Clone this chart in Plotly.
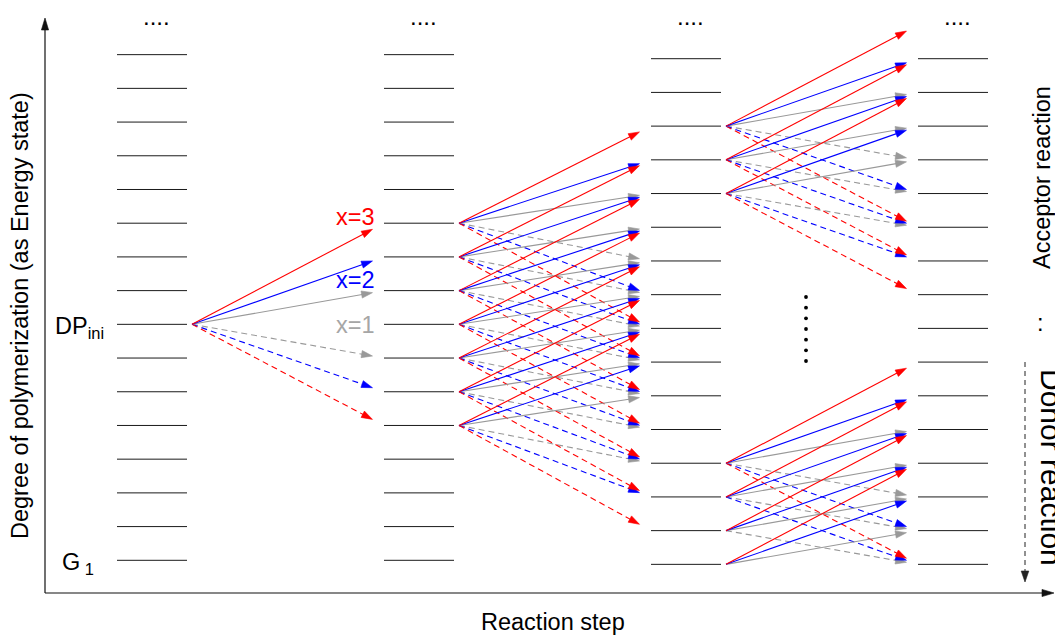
import numpy as np
import plotly.graph_objects as go

# ---------------- diagram data ----------------
N_LEVELS = 16                                  # energy levels drawn in every column
LEVELS = list(range(N_LEVELS))                 # 0 = G1 ... 15
DP_INI = 7                                     # initial degree of polymerization
STEPS = [0, 1, 2, 3]                           # reaction steps (columns)
STEP_LEVEL_SHIFT = [0.0, 0.0, -0.12, -0.12]    # columns 3 and 4 sit slightly lower
TRANSFER_SIZES = [1, 2, 3]                     # x = glucose units transferred
TRANSFER_COLORS = ["#999999", "#0000ff", "#ff0000"]
TRANSFER_LABEL_COLORS = ["#a6a6a6", "#0000ff", "#ff0000"]
TRANSFER_LABELS = ["x=1", "x=2", "x=3"]

# levels from which arrows leave each step
SOURCES_STEP0 = [7]
SOURCES_STEP1 = [4, 5, 6, 7, 8, 9, 10]
SOURCES_STEP2 = [13, 12, 11, 3, 2, 1, 0]
SOURCES = [SOURCES_STEP0, SOURCES_STEP1, SOURCES_STEP2]

Y_TITLE = "Degree of polymerization (as Energy state)"
X_TITLE = "Reaction step"

# ---------------- canvas geometry ----------------
W, H = 1055, 635
X0, DX = 152.0, 267.0          # pixel x of step 0 and pixels per step
Y0, DY = 560.3, 33.71          # pixel y of level 0 and pixels per level
HALF_LINE = 35.0               # half length of a level bar (px)
FONT = "Liberation Sans, Arial, Helvetica, sans-serif"
FS = 23.5


def to_px(s, l):
    return X0 + DX * s, Y0 - DY * l


def to_data(px, py):
    return (px - X0) / DX, (Y0 - py) / DY


fig = go.Figure()

# level bars
lx, ly = [], []
for s in STEPS:
    for l in LEVELS:
        a, _ = to_data(X0 + DX * s - HALF_LINE, 0)
        b, _ = to_data(X0 + DX * s + HALF_LINE, 0)
        lx += [a, b, None]
        ly += [l + STEP_LEVEL_SHIFT[s]] * 2 + [None]
fig.add_trace(go.Scatter(x=lx, y=ly, mode="lines", line=dict(color="#1a1a1a", width=1),
                         hoverinfo="skip", showlegend=False))

# transfer arrows
shafts = {}
heads = {}
HEAD_L, HEAD_W = 11.0, 3.6
START_OFF = 40.0
FRACTION = 0.94


def add_arrow(s0, l0, s1, l1, color, dashed):
    sx, sy = to_px(s0, l0)
    sx += START_OFF
    tx, ty = to_px(s1, l1)
    tx -= HALF_LINE
    tx = sx + FRACTION * (tx - sx)
    ty = sy + FRACTION * (ty - sy)
    d = np.array([tx - sx, ty - sy])
    d /= np.hypot(*d)
    n = np.array([-d[1], d[0]])
    base = np.array([tx, ty]) - HEAD_L * d
    end = np.array([tx, ty]) - (HEAD_L - 2) * d
    key = (color, dashed)
    xs, ys = shafts.setdefault(key, ([], []))
    p0 = to_data(sx, sy)
    p1 = to_data(*end)
    xs += [p0[0], p1[0], None]
    ys += [p0[1], p1[1], None]
    hx, hy = heads.setdefault(color, ([], []))
    for pt in (np.array([tx, ty]), base + HEAD_W * n, base - HEAD_W * n, np.array([tx, ty])):
        q = to_data(*pt)
        hx.append(q[0])
        hy.append(q[1])
    hx.append(None)
    hy.append(None)


for s, srcs in enumerate(SOURCES):
    for l in srcs:
        for k, col in zip(TRANSFER_SIZES, TRANSFER_COLORS):
            add_arrow(s, l + STEP_LEVEL_SHIFT[s], s + 1, l + k + STEP_LEVEL_SHIFT[s + 1], col, False)
            if l - k >= 0:
                add_arrow(s, l + STEP_LEVEL_SHIFT[s], s + 1, l - k + STEP_LEVEL_SHIFT[s + 1], col, True)

for dashed in (True, False):
    for col in TRANSFER_COLORS:
        if (col, dashed) in shafts:
            xs, ys = shafts[(col, dashed)]
            fig.add_trace(go.Scatter(x=xs, y=ys, mode="lines",
                                     line=dict(color=col, width=1.1, dash="6px,4px" if dashed else "solid"),
                                     hoverinfo="skip", showlegend=False))
for col in TRANSFER_COLORS:
    hx, hy = heads[col]
    fig.add_trace(go.Scatter(x=hx, y=hy, mode="lines", fill="toself", fillcolor=col,
                             line=dict(color=col, width=0.6), hoverinfo="skip", showlegend=False))

# vertical ellipsis between steps 2 and 3
ex, _ = to_data(806, 0)
ey = [to_data(0, py)[1] for py in np.linspace(297, 361, 7)]
fig.add_trace(go.Scatter(x=[ex] * 7, y=ey, mode="markers",
                         marker=dict(color="black", size=3.8), hoverinfo="skip", showlegend=False))


# axes drawn as arrows
def px_arrow(p0, p1, color, width, dash="solid", head_l=12.0, head_w=3.6):
    p0 = np.array(p0, float)
    p1 = np.array(p1, float)
    d = (p1 - p0) / np.hypot(*(p1 - p0))
    n = np.array([-d[1], d[0]])
    base = p1 - head_l * d
    a = to_data(*p0)
    b = to_data(*(p1 - (head_l - 2) * d))
    fig.add_trace(go.Scatter(x=[a[0], b[0]], y=[a[1], b[1]], mode="lines",
                             line=dict(color=color, width=width, dash=dash),
                             hoverinfo="skip", showlegend=False))
    tri = [p1, base + head_w * n, base - head_w * n, p1]
    tx = [to_data(*q)[0] for q in tri]
    ty = [to_data(*q)[1] for q in tri]
    fig.add_trace(go.Scatter(x=tx, y=ty, mode="lines", fill="toself", fillcolor=color,
                             line=dict(color=color, width=0.6), hoverinfo="skip", showlegend=False))


px_arrow((45, 593), (45, 18), "#111111", 1.2)
px_arrow((45, 593), (1054, 593), "#111111", 1.2)
px_arrow((1025, 362), (1025, 582), "#222222", 1.0, dash="5px,4px", head_l=11, head_w=3.8)

# ---------------- text ----------------
ann = []


def text(px, py, t, size=FS, color="black", angle=0, xanchor="center", yanchor="middle"):
    x, y = to_data(px, py)
    ann.append(dict(x=x, y=y, xref="x", yref="y", text=t, showarrow=False, textangle=angle,
                    xanchor=xanchor, yanchor=yanchor,
                    font=dict(family=FONT, size=size, color=color)))


# dots above every column
for s in STEPS:
    cx, _ = to_px(s, 0)
    text(cx + 4, 16, "....", size=24)

# transfer size labels next to the first fan of arrows
label_dy = [34, 23, -6]
for k, lab, col, dy in zip(TRANSFER_SIZES, TRANSFER_LABELS, TRANSFER_LABEL_COLORS, label_dy):
    _, py = to_px(0, DP_INI + k)
    text(355, py + dy, lab, color=col)

_, py_ini = to_px(0, DP_INI)
text(106, py_ini + 3, "DP<sub>ini</sub>", xanchor="right")
_, py_g1 = to_px(0, 0)
text(60, py_g1 + 3, "G<sub> 1</sub>", xanchor="left")

text(20, 316, Y_TITLE, angle=-90)
text(553, 622, X_TITLE)
text(1042, 178, "Acceptor reaction", angle=-90)
text(1052, 467, "Donor reaction", angle=90, size=30)
text(1040, 323, ":", size=FS)

xr = [to_data(0, 0)[0], to_data(W, 0)[0]]
yr = [to_data(0, H)[1], to_data(0, 0)[1]]
fig.update_layout(
    width=W, height=H, margin=dict(l=0, r=0, t=0, b=0),
    paper_bgcolor="white", plot_bgcolor="white",
    xaxis=dict(range=xr, visible=False, fixedrange=True),
    yaxis=dict(range=yr, visible=False, fixedrange=True),
    annotations=ann, showlegend=False,
)
fig.write_html("out.html")
